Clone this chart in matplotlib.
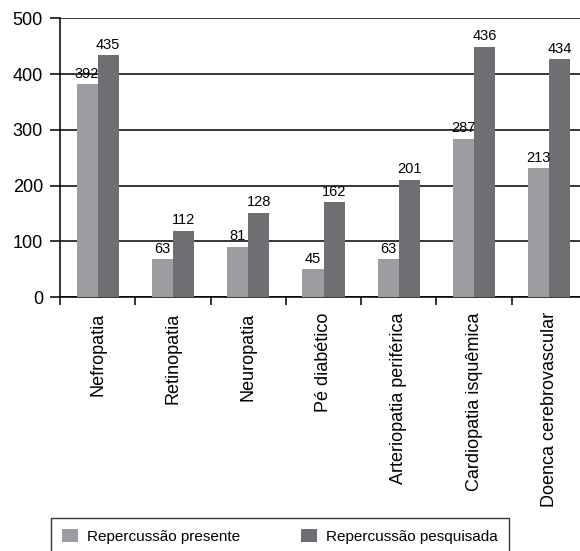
import numpy as np
import matplotlib.pyplot as plt

plt.rcParams['font.family'] = ['Liberation Sans', 'DejaVu Sans']

categories = ["Nefropatia", "Retinopatia", "Neuropatia", "Pé diabético",
              "Arteriopatia periférica", "Cardiopatia isquêmica",
              "Doenca cerebrovascular"]
# bar heights as drawn in the picture
presente = [382, 68, 90, 50, 68, 284, 231]
pesquisada = [434, 119, 151, 170, 210, 449, 427]
# numbers printed above the bars
presente_lbl = [392, 63, 81, 45, 63, 287, 213]
pesquisada_lbl = [435, 112, 128, 162, 201, 436, 434]

c_light = "#9c9da1"
c_dark = "#6e6f72"

fig = plt.figure(figsize=(5.8, 5.51), dpi=100)
ax = fig.add_axes([60/580, (551-297)/551, 527/580, (297-18.3)/551])

x = np.arange(len(categories))
w = 0.28
b1 = ax.bar(x - w/2, presente, w, color=c_light, label="Repercussão presente", zorder=3)
b2 = ax.bar(x + w/2, pesquisada, w, color=c_dark, label="Repercussão pesquisada", zorder=3)

for bars, labels in [(b1, presente_lbl), (b2, pesquisada_lbl)]:
    for rect, v in zip(bars, labels):
        ax.annotate(str(v), (rect.get_x() + rect.get_width()/2, rect.get_height()),
                    xytext=(0, 2.5), textcoords="offset points",
                    ha="center", va="bottom", fontsize=10.5)

ax.set_xlim(-0.5, len(categories) - 0.5)
ax.set_ylim(0, 500)
ax.set_yticks([0, 100, 200, 300, 400, 500])
ax.yaxis.grid(True, color="black", linewidth=1.1, zorder=0)
ax.tick_params(axis="y", labelsize=13, length=7.2, width=1.1, pad=5)

ax.set_xticks(x)
ax.set_xticklabels(categories, rotation=90, fontsize=13)
ax.set_xticks(np.arange(len(categories) + 1) - 0.5, minor=True)
ax.tick_params(axis="x", which="major", length=0, pad=11)
ax.tick_params(axis="x", which="minor", length=6, width=1.1, direction="out")

for s in ["top", "right"]:
    ax.spines[s].set_visible(False)
for s in ["left", "bottom"]:
    ax.spines[s].set_linewidth(1.1)

leg = fig.legend(loc="upper left", bbox_to_anchor=(51/580, 1 - 518/551),
                 ncol=2, fontsize=11, frameon=True, fancybox=False,
                 borderaxespad=0, borderpad=0.7, handlelength=1.05,
                 handleheight=1.0, handletextpad=0.6, columnspacing=4.0)
leg.get_frame().set_edgecolor("black")
leg.get_frame().set_linewidth(1.0)

fig.savefig("out.png", dpi=100)
